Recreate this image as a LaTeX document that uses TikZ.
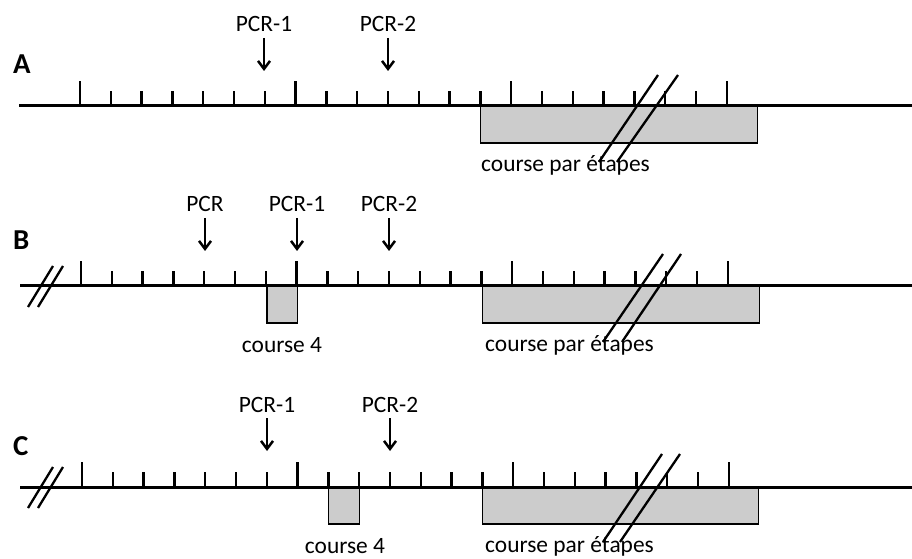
\documentclass[tikz,border=0pt]{standalone}
\usepackage{fontspec}
\setmainfont{Carlito}
\usetikzlibrary{arrows.meta}
\begin{document}
\begin{tikzpicture}[x=1bp,y=-1bp,
  axis/.style={line width=3bp},
  tickline/.style={line width=2.3bp},
  slash/.style={line width=2.3bp},
  region/.style={draw, line width=1.4bp, fill=gray!40},
  txt/.style={font=\fontsize{23.5}{28}\selectfont, inner sep=0pt, anchor=base},
  lbl/.style={txt, anchor=base west},
  panel/.style={font=\fontsize{29}{32}\selectfont\bfseries, inner sep=0pt, anchor=base west},
  pointer/.style={line width=2.5bp, -{Straight Barb[length=8bp,width=12bp]}}]
\useasboundingbox (0,0) rectangle (912,559);

% ---------- Panel A ----------
\def\dx{30.8}
\node[panel] (labA) at (13,74) {A};
\draw[region] (480.4,106) rectangle (757.6,143);
\draw[axis] (19,106) -- (912,106);
\foreach \k in {0,...,21} \draw[tickline] ({80+\k*\dx},106) -- ({80+\k*\dx},91);
\foreach \k in {0,7,14,21} \draw[tickline] ({80+\k*\dx},106) -- ({80+\k*\dx},81);
\node[txt] (a1) at (264,32) {PCR-1};
\node[txt] (a2) at (388,32) {PCR-2};
\coordinate (a1e) at (264,71);
\coordinate (a2e) at (388,71);
\draw[pointer] (a1.south |- 0,38) -- (a1e);
\draw[pointer] (a2.south |- 0,38) -- (a2e);
\node[lbl] (cpA) at (481,172) {course par étapes};
\draw[slash] (658,75) -- (599,162);
\draw[slash] (678,75) -- (617,162);

% ---------- Panel B ----------
\node[panel] (labB) at (13,250) {B};
\draw[region] (266.8,286) rectangle (297.6,323);
\draw[region] (482.4,286) rectangle (759.6,323);
\draw[axis] (20,286) -- (912,286);
\foreach \k in {0,...,21} \draw[tickline] ({81+\k*\dx},286) -- ({81+\k*\dx},271);
\foreach \k in {0,7,14,21} \draw[tickline] ({81+\k*\dx},286) -- ({81+\k*\dx},261);
\node[txt] (b0) at (205,212) {PCR};
\node[txt] (b1) at (297,212) {PCR-1};
\node[txt] (b2) at (389,212) {PCR-2};
\coordinate (b0e) at (205,251);
\coordinate (b1e) at (297,251);
\coordinate (b2e) at (389,251);
\draw[pointer] (b0.south |- 0,218) -- (b0e);
\draw[pointer] (b1.south |- 0,218) -- (b1e);
\draw[pointer] (b2.south |- 0,218) -- (b2e);
\node[txt] (c4B) at (282,353) {course 4};
\node[lbl] (cpB) at (485,352) {course par étapes};
\draw[slash] (28,307) -- (53,266);
\draw[slash] (38,307) -- (63,266);
\draw[slash] (663,254) -- (603,342);
\draw[slash] (681,254) -- (622,342);

% ---------- Panel C ----------
\node[panel] (labC) at (13,455) {C};
\draw[region] (328.4,487) rectangle (359.2,524);
\draw[region] (482.4,487) rectangle (758.6,524);
\draw[axis] (20,487) -- (912,487);
\foreach \k in {0,...,21} \draw[tickline] ({82+\k*\dx},487) -- ({82+\k*\dx},472);
\foreach \k in {0,7,14,21} \draw[tickline] ({82+\k*\dx},487) -- ({82+\k*\dx},462);
\node[txt] (c1) at (267,412) {PCR-1};
\node[txt] (c2) at (390,412) {PCR-2};
\coordinate (c1e) at (267,451);
\coordinate (c2e) at (390,451);
\draw[pointer] (c1.south |- 0,418) -- (c1e);
\draw[pointer] (c2.south |- 0,418) -- (c2e);
\node[txt] (c4C) at (345,553) {course 4};
\node[lbl] (cpC) at (485,552) {course par étapes};
\draw[slash] (28,508) -- (53,467);
\draw[slash] (38,508) -- (63,467);
\draw[slash] (662,454) -- (603,542);
\draw[slash] (680,454) -- (620,542);
\end{tikzpicture}
\end{document}
